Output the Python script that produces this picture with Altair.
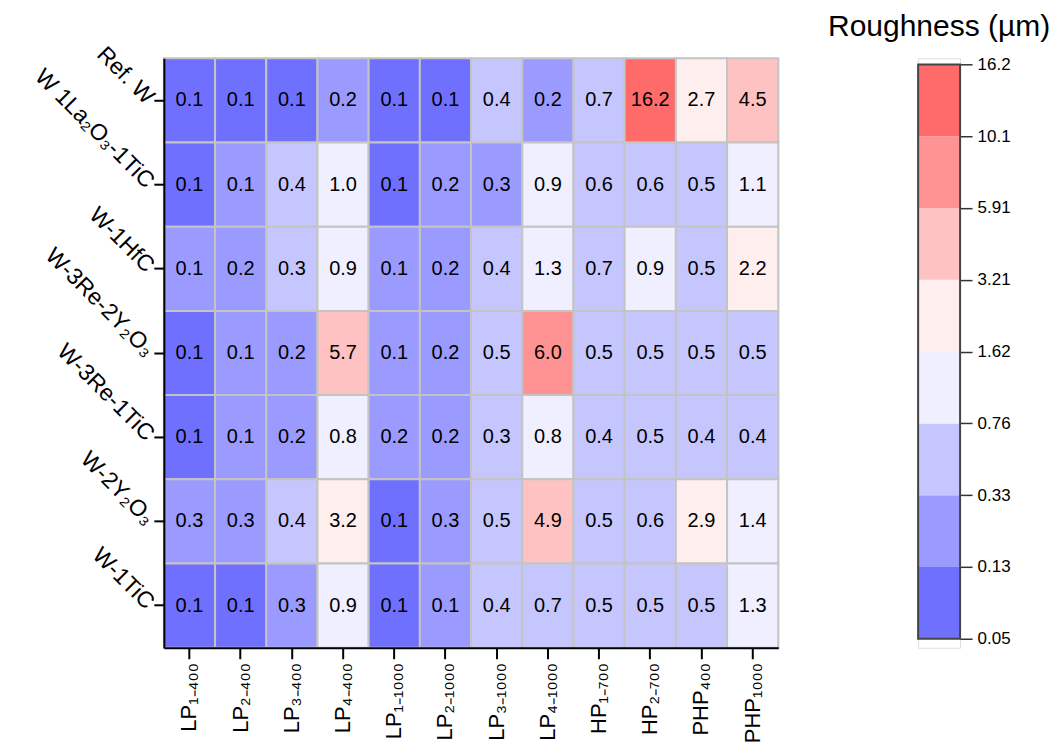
import altair as alt
import pandas as pd

rows = ["Ref. W", "W 1La₂O₃-1TiC", "W-1HfC", "W-3Re-2Y₂O₃", "W-3Re-1TiC", "W-2Y₂O₃", "W-1TiC"]
cols = ["LP₁₋₄₀₀", "LP₂₋₄₀₀", "LP₃₋₄₀₀", "LP₄₋₄₀₀", "LP₁₋₁₀₀₀", "LP₂₋₁₀₀₀",
        "LP₃₋₁₀₀₀", "LP₄₋₁₀₀₀", "HP₁₋₇₀₀", "HP₂₋₇₀₀", "PHP₄₀₀", "PHP₁₀₀₀"]

# roughness values (µm), one list per material (row)
ref_w        = [0.10, 0.10, 0.10, 0.20, 0.10, 0.10, 0.40, 0.20, 0.70, 16.2, 2.70, 4.50]
w_la2o3_tic  = [0.10, 0.14, 0.40, 1.00, 0.10, 0.20, 0.30, 0.90, 0.60, 0.60, 0.50, 1.10]
w_hfc        = [0.14, 0.20, 0.34, 0.90, 0.14, 0.20, 0.40, 1.30, 0.70, 0.90, 0.50, 2.20]
w_re_y2o3    = [0.10, 0.14, 0.20, 5.70, 0.14, 0.20, 0.50, 6.00, 0.50, 0.50, 0.50, 0.50]
w_re_tic     = [0.10, 0.14, 0.20, 0.80, 0.20, 0.20, 0.34, 0.80, 0.40, 0.50, 0.40, 0.40]
w_y2o3       = [0.30, 0.30, 0.40, 3.20, 0.10, 0.30, 0.50, 4.90, 0.50, 0.60, 2.90, 1.40]
w_tic        = [0.10, 0.10, 0.30, 0.90, 0.10, 0.14, 0.40, 0.70, 0.50, 0.50, 0.50, 1.30]
values = [ref_w, w_la2o3_tic, w_hfc, w_re_y2o3, w_re_tic, w_y2o3, w_tic]

bounds = [0.05, 0.13, 0.33, 0.76, 1.62, 3.21, 5.91, 10.1, 16.2]
bound_labels = ["0.05", "0.13", "0.33", "0.76", "1.62", "3.21", "5.91", "10.1", "16.2"]
colors = ["#7070ff", "#9b9bff", "#c6c6ff", "#efefff", "#ffeeee", "#ffc2c2", "#ff9393", "#ff6b6b"]

FONT = "Liberation Sans"

recs = []
for r, vals in zip(rows, values):
    for c, v in zip(cols, vals):
        recs.append({"row": r, "col": c, "v": v})
df = pd.DataFrame(recs)

color_scale = alt.Scale(type="threshold", domain=bounds[1:-1], range=colors)

base = alt.Chart(df).encode(
    x=alt.X("col:N", sort=cols, title=None,
            axis=alt.Axis(labelAngle=-90, labelFontSize=22, labelFont=FONT, labelColor="black",
                          tickSize=11, tickColor="black", tickWidth=2, domainColor="black",
                          domainWidth=2, labelPadding=4, labelLimit=200)),
    y=alt.Y("row:N", sort=rows, title=None,
            axis=alt.Axis(labelAngle=45, labelFontSize=23, labelFont=FONT, labelColor="black",
                          tickSize=10, tickColor="black", tickWidth=2, domainColor="black",
                          domainWidth=2, labelPadding=4, labelLimit=300)),
)

cells = base.mark_rect(stroke="#c4c4c4", strokeWidth=2).encode(
    color=alt.Color("v:Q", scale=color_scale, legend=None)
)
labels = base.mark_text(fontSize=20, font=FONT, color="black").encode(
    text=alt.Text("v:Q", format=".1f")
)
heat = (cells + labels).properties(width=615, height=590)

leg_df = pd.DataFrame({
    "lo": list(range(len(colors))),
    "hi": [i + 1 for i in range(len(colors))],
    "c": colors,
    "k": ["bar"] * len(colors),
})
frame_df = pd.DataFrame({"lo": [0], "hi": [len(colors)], "k": ["bar"]})

ly = alt.Y("lo:Q", title=None,
           scale=alt.Scale(domain=[-0.125, len(colors) + 0.085], nice=False, zero=False),
           axis=alt.Axis(orient="right", values=list(range(len(bounds))),
                         labelExpr="%s[datum.value]" % str(bound_labels),
                         labelFontSize=17, labelFont=FONT, labelColor="black",
                         tickSize=12, tickColor="#333", tickWidth=1.5, domain=False,
                         grid=False, labelPadding=5))
lx = alt.X("k:N", title=None, axis=None)

leg_bars = alt.Chart(leg_df).mark_rect().encode(
    x=lx, y=ly, y2="hi:Q", color=alt.Color("c:N", scale=None)
)
leg_frame = alt.Chart(frame_df).mark_rect(fill=None, stroke="#444", strokeWidth=2).encode(
    x=lx, y=ly, y2="hi:Q"
)
legend = (leg_bars + leg_frame).properties(
    width=42, height=590,
    title=alt.TitleParams("Roughness (µm)", fontSize=30, font=FONT, fontWeight="normal",
                          color="black", anchor="middle", offset=13),
)

chart = alt.hconcat(heat, legend, spacing=47).configure_view(
    stroke="black", strokeWidth=2
).configure(padding={"left": 21, "top": 3, "right": 0, "bottom": 0})

chart.save("out.html", embed_options={"renderer": "svg", "actions": False})
